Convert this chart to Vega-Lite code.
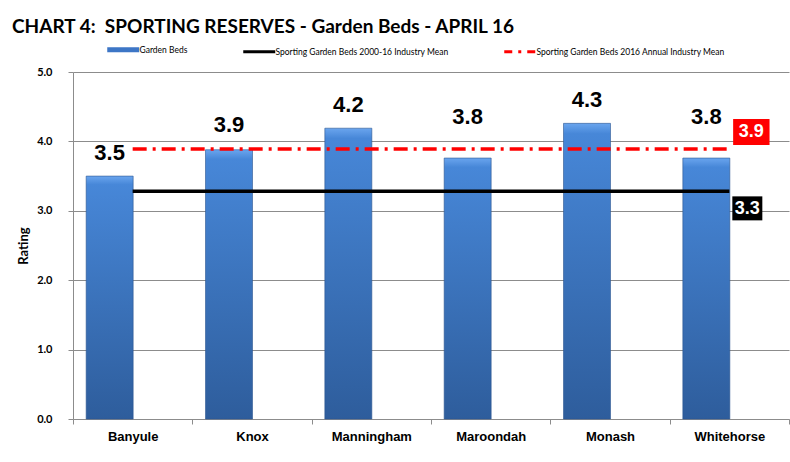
{
  "$schema": "https://vega.github.io/schema/vega-lite/v6.json",
  "width": 716,
  "height": 347,
  "autosize": {"type": "none"},
  "padding": {"left": 73, "top": 72, "right": 1, "bottom": 43},
  "background": "white",
  "title": {
    "text": "CHART 4:\u00a0 SPORTING RESERVES - Garden Beds - APRIL 16",
    "anchor": "start",
    "frame": "group",
    "dx": -61,
    "offset": -7,
    "baseline": "alphabetic",
    "font": "Lato",
    "fontSize": 19,
    "fontWeight": "bold",
    "color": "#000000"
  },
  "config": {
    "view": {"stroke": null},
    "axis": {"labelColor": "#000000", "titleColor": "#000000"}
  },
  "datasets": {
    "beds": [
      {"council": "Banyule", "rating": 3.50},
      {"council": "Knox", "rating": 3.88},
      {"council": "Manningham", "rating": 4.19},
      {"council": "Maroondah", "rating": 3.76},
      {"council": "Monash", "rating": 4.26},
      {"council": "Whitehorse", "rating": 3.76}
    ]
  },
  "encoding": {
    "x": {
      "field": "council",
      "type": "nominal",
      "sort": null,
      "scale": {"domain": ["Banyule", "Knox", "Manningham", "Maroondah", "Monash", "Whitehorse"], "paddingInner": 0, "paddingOuter": 0},
      "axis": {
        "title": null,
        "labelAngle": 0,
        "labelFont": "Liberation Sans",
        "labelFontSize": 13,
        "labelFontWeight": "bold",
        "labelPadding": 6,
        "tickBand": "extent",
        "tickSize": 5,
        "tickColor": "#8c8c8c",
        "domainColor": "#8c8c8c",
        "grid": false
      }
    }
  },
  "layer": [
    {
      "data": {"name": "beds"},
      "mark": {
        "type": "bar",
        "width": 47,
        "xOffset": -23,
        "stroke": "#2b5690",
        "strokeWidth": 0.6,
        "color": {
          "gradient": "linear",
          "x1": 0, "y1": 0, "x2": 0, "y2": 1,
          "stops": [
            {"offset": 0, "color": "#6aa5ee"},
            {"offset": 0.035, "color": "#4787d8"},
            {"offset": 1, "color": "#2e5d9c"}
          ]
        }
      },
      "encoding": {
        "y": {
          "field": "rating",
          "type": "quantitative",
          "scale": {"domain": [0, 5], "nice": false},
          "axis": {
            "title": "Rating",
            "titleFont": "Lato",
            "titleFontSize": 13,
            "titleFontWeight": "bold",
            "titlePadding": 6,
            "values": [0, 1, 2, 3, 4, 5],
            "format": ".1f",
            "labelFont": "Lato",
            "labelFontSize": 11,
            "labelFontWeight": "bold",
            "labelPadding": 16,
            "tickSize": 5,
            "tickColor": "#8c8c8c",
            "domainColor": "#8c8c8c",
            "grid": true,
            "gridColor": "#8c8c8c",
            "gridWidth": 1
          }
        }
      }
    },
    {
      "data": {"values": [
        {"council": "Banyule", "series": "Sporting Garden Beds 2000-16 Industry Mean", "value": 3.28},
        {"council": "Knox", "series": "Sporting Garden Beds 2000-16 Industry Mean", "value": 3.28},
        {"council": "Manningham", "series": "Sporting Garden Beds 2000-16 Industry Mean", "value": 3.28},
        {"council": "Maroondah", "series": "Sporting Garden Beds 2000-16 Industry Mean", "value": 3.28},
        {"council": "Monash", "series": "Sporting Garden Beds 2000-16 Industry Mean", "value": 3.28},
        {"council": "Whitehorse", "series": "Sporting Garden Beds 2000-16 Industry Mean", "value": 3.28},
        {"council": "Banyule", "series": "Sporting Garden Beds 2016 Annual Industry Mean", "value": 3.89},
        {"council": "Knox", "series": "Sporting Garden Beds 2016 Annual Industry Mean", "value": 3.89},
        {"council": "Manningham", "series": "Sporting Garden Beds 2016 Annual Industry Mean", "value": 3.89},
        {"council": "Maroondah", "series": "Sporting Garden Beds 2016 Annual Industry Mean", "value": 3.89},
        {"council": "Monash", "series": "Sporting Garden Beds 2016 Annual Industry Mean", "value": 3.89},
        {"council": "Whitehorse", "series": "Sporting Garden Beds 2016 Annual Industry Mean", "value": 3.89}
      ]},
      "mark": {"type": "line", "strokeWidth": 3.5},
      "encoding": {
        "y": {"field": "value", "type": "quantitative"},
        "color": {
          "field": "series",
          "type": "nominal",
          "scale": {
            "domain": ["Garden Beds", "Sporting Garden Beds 2000-16 Industry Mean", "Sporting Garden Beds 2016 Annual Industry Mean"],
            "range": ["#3d76c6", "#000000", "#ff0000"]
          },
          "legend": {
            "orient": "none",
            "legendX": 46,
            "legendY": -27,
            "direction": "horizontal",
            "title": null,
            "symbolType": "stroke",
            "symbolSize": 1024,
            "symbolStrokeWidth": 3,
            "labelFont": "Lato",
            "labelFontSize": 8.5,
            "labelColor": "#000000",
            "labelLimit": 0,
            "labelOffset": 12,
            "columnPadding": 49,
            "encode": {
              "symbols": {
                "update": {
                  "strokeWidth": {"signal": "datum.value == 'Garden Beds' ? 5 : 3"},
                  "strokeDash": {"signal": "datum.value == 'Sporting Garden Beds 2016 Annual Industry Mean' ? [8, 6, 3, 6] : [1, 0]"}
                }
              }
            }
          }
        },
        "strokeDash": {
          "field": "series",
          "type": "nominal",
          "scale": {
            "domain": ["Sporting Garden Beds 2000-16 Industry Mean", "Sporting Garden Beds 2016 Annual Industry Mean"],
            "range": [[1, 0], [14, 6, 3, 6]]
          },
          "legend": null
        }
      }
    },
    {
      "data": {"name": "beds"},
      "transform": [{"filter": "datum.council == 'Banyule' || datum.council == 'Manningham' || datum.council == 'Monash'"}],
      "mark": {
        "type": "text",
        "xOffset": -23,
        "dy": -16,
        "baseline": "alphabetic",
        "font": "Liberation Sans",
        "fontSize": 22,
        "fontWeight": "bold",
        "color": "#000000"
      },
      "encoding": {
        "y": {"field": "rating", "type": "quantitative"},
        "text": {"field": "rating", "type": "quantitative", "format": ".1f"}
      }
    },
    {
      "data": {"name": "beds"},
      "transform": [{"filter": "datum.council == 'Knox'"}],
      "mark": {
        "type": "text",
        "xOffset": -23,
        "dy": -18,
        "baseline": "alphabetic",
        "font": "Liberation Sans",
        "fontSize": 22,
        "fontWeight": "bold",
        "color": "#000000"
      },
      "encoding": {
        "y": {"field": "rating", "type": "quantitative"},
        "text": {"field": "rating", "type": "quantitative", "format": ".1f"}
      }
    },
    {
      "data": {"name": "beds"},
      "transform": [{"filter": "datum.council == 'Maroondah' || datum.council == 'Whitehorse'"}],
      "mark": {
        "type": "text",
        "xOffset": -23,
        "dy": -34,
        "baseline": "alphabetic",
        "font": "Liberation Sans",
        "fontSize": 22,
        "fontWeight": "bold",
        "color": "#000000"
      },
      "encoding": {
        "y": {"field": "rating", "type": "quantitative"},
        "text": {"field": "rating", "type": "quantitative", "format": ".1f"}
      }
    },
    {
      "data": {"values": [{"council": "Whitehorse", "value": 3.89, "label": "3.9"}]},
      "mark": {
        "type": "point",
        "shape": "M-1.4,-1H1.4V1H-1.4Z",
        "size": 676,
        "filled": true,
        "opacity": 1,
        "color": "#ff0000",
        "strokeWidth": 0,
        "xOffset": 22,
        "yOffset": -17
      },
      "encoding": {"y": {"field": "value", "type": "quantitative"}}
    },
    {
      "data": {"values": [{"council": "Whitehorse", "value": 3.89, "label": "3.9"}]},
      "mark": {
        "type": "text",
        "xOffset": 22,
        "yOffset": -17,
        "baseline": "middle",
        "font": "Liberation Sans",
        "fontSize": 18,
        "fontWeight": "bold",
        "color": "#ffffff"
      },
      "encoding": {"y": {"field": "value", "type": "quantitative"}, "text": {"field": "label"}}
    },
    {
      "data": {"values": [{"council": "Whitehorse", "value": 3.28, "label": "3.3"}]},
      "mark": {
        "type": "point",
        "shape": "M-1.25,-1H1.25V1H-1.25Z",
        "size": 576,
        "filled": true,
        "opacity": 1,
        "color": "#000000",
        "strokeWidth": 0,
        "xOffset": 18,
        "yOffset": 17
      },
      "encoding": {"y": {"field": "value", "type": "quantitative"}}
    },
    {
      "data": {"values": [{"council": "Whitehorse", "value": 3.28, "label": "3.3"}]},
      "mark": {
        "type": "text",
        "xOffset": 18,
        "yOffset": 18,
        "baseline": "middle",
        "font": "Liberation Sans",
        "fontSize": 18,
        "fontWeight": "bold",
        "color": "#ffffff"
      },
      "encoding": {"y": {"field": "value", "type": "quantitative"}, "text": {"field": "label"}}
    }
  ]
}
